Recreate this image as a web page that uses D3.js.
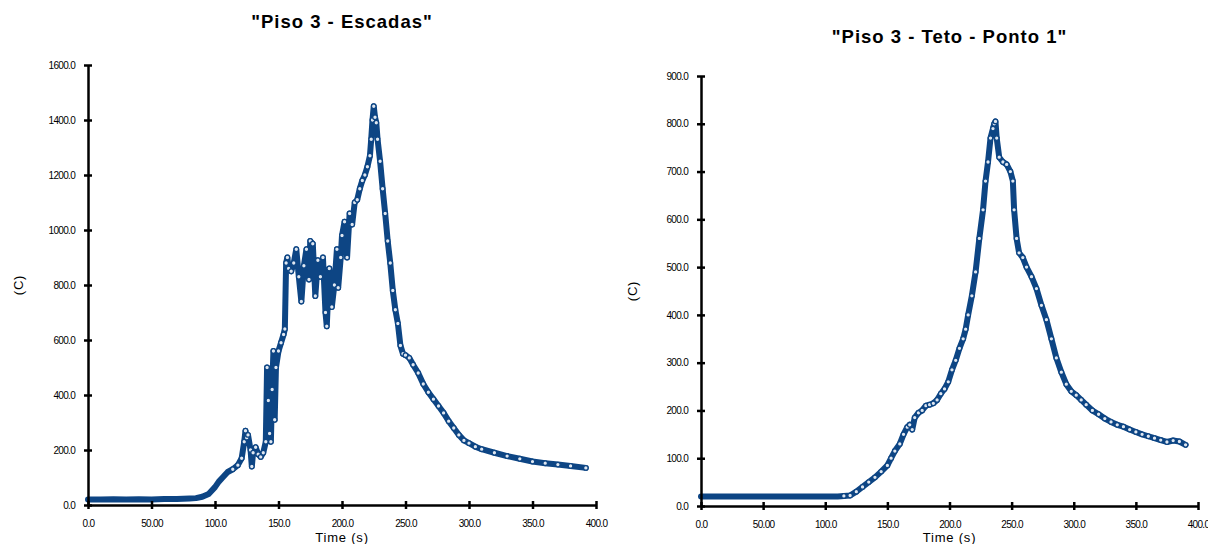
<!DOCTYPE html>
<html>
<head>
<meta charset="utf-8">
<script src="https://cdn.jsdelivr.net/npm/d3@7"></script>
<style>
  html, body { margin: 0; padding: 0; background: #fff; }
  svg { display: block; }
</style>
</head>
<body>
<div id="chart"></div>
<script>
// "Piso 3 - Escadas"
const stairsTime = [0, 10, 20, 30, 40, 50, 60, 70, 80, 85, 90, 95, 100, 103, 106, 110, 114, 118, 121, 123, 124, 125, 126, 128, 129, 130, 132, 134, 136, 138, 140, 141, 142, 143, 144, 145, 146, 147, 148, 150, 152, 154, 155, 156, 157, 158, 160, 162, 164, 166, 168, 170, 172, 174, 175, 177, 179, 181, 183, 185, 187, 188, 190, 192, 194, 196, 197, 199, 200, 202, 204, 206, 208, 210, 212, 214, 216, 218, 220, 222, 223, 224, 225, 226, 227, 228, 230, 232, 234, 236, 238, 240, 242, 244, 246, 248, 250, 253, 256, 260, 264, 268, 272, 276, 280, 284, 288, 292, 296, 300, 305, 310, 320, 330, 340, 350, 360, 370, 380, 392];
const stairsTemp = [20, 20, 21, 20, 21, 20, 22, 22, 24, 25, 30, 40, 65, 85, 100, 120, 130, 145, 170, 230, 270, 245, 255, 200, 140, 190, 210, 185, 175, 190, 230, 500, 380, 260, 230, 420, 560, 310, 500, 560, 590, 620, 640, 880, 900, 860, 850, 880, 930, 830, 740, 870, 930, 820, 960, 950, 760, 890, 830, 900, 700, 650, 860, 720, 800, 930, 790, 900, 980, 1030, 900, 1060, 1020, 1100, 1110, 1150, 1180, 1200, 1230, 1270, 1330, 1400, 1450, 1410, 1390, 1330, 1250, 1150, 1060, 960, 880, 780, 710, 660, 580, 550, 545, 535, 510, 480, 440, 410, 385, 360, 335, 305, 280, 255, 235, 225, 212, 203, 190, 178, 168, 158, 152, 147, 142, 135];

// "Piso 3 - Teto - Ponto 1"
const ceilingTime = [0, 10, 20, 30, 40, 50, 60, 70, 80, 90, 100, 110, 115, 120, 125, 130, 135, 140, 145, 150, 153, 156, 160, 163, 166, 168, 170, 172, 175, 178, 181, 184, 187, 190, 193, 196, 199, 202, 205, 208, 211, 213, 215, 218, 221, 224, 227, 229, 231, 233, 235, 236, 237, 238, 240, 243, 246, 249, 251, 252, 254, 256, 259, 262, 266, 270, 274, 278, 282, 286, 290, 294, 298, 302, 306, 310, 315, 320, 325, 330, 335, 340, 345, 350, 355, 360, 365, 370, 375, 380, 385, 390];
const ceilingTemp = [20, 20, 20, 20, 20, 20, 20, 20, 20, 20, 20, 20, 21, 22, 30, 40, 50, 60, 72, 85, 100, 115, 130, 150, 165, 170, 160, 185, 195, 200, 210, 212, 215, 222, 235, 245, 260, 285, 305, 330, 350, 370, 400, 440, 490, 560, 620, 680, 720, 770, 790, 800, 805, 770, 730, 720, 715, 700, 680, 620, 560, 530, 520, 500, 480, 455, 420, 390, 350, 310, 280, 255, 240, 232, 222, 212, 200, 192, 183, 176, 170, 166, 160, 155, 150, 146, 142, 138, 134, 137, 135, 128];

const xTickValues = [0, 50, 100, 150, 200, 250, 300, 350, 400];
const xTickLabels = ['0.0', '50.00', '100.0', '150.0', '200.0', '250.0', '300.0', '350.0', '400.0'];
const stairsYTicks = [0, 200, 400, 600, 800, 1000, 1200, 1400, 1600];
const ceilingYTicks = [0, 100, 200, 300, 400, 500, 600, 700, 800, 900];

const width = 1208;
const height = 544;
const lineColor = '#0d4584';

const svg = d3.select('#chart').append('svg')
  .attr('width', width)
  .attr('height', height)
  .attr('viewBox', [0, 0, width, height])
  .attr('font-family', 'Liberation Sans, Arial, sans-serif');

const drawPanel = ({times, temps, title, titleY, xRange, yRange, yMax, yTicks, yLabelX}) => {
  const x = d3.scaleLinear([0, 400], xRange);
  const y = d3.scaleLinear([0, yMax], yRange);
  const I = d3.range(times.length);

  const xAxis = d3.axisBottom(x)
    .tickValues(xTickValues)
    .tickFormat((d, i) => xTickLabels[i])
    .tickSizeOuter(0)
    .tickPadding(9);
  const yAxis = d3.axisLeft(y)
    .tickValues(yTicks)
    .tickFormat(d3.format('.1f'))
    .tickSizeOuter(0)
    .tickPadding(7);

  // data first, axes drawn on top like the original
  const line = d3.line()
    .x(i => x(times[i]))
    .y(i => y(temps[i]));

  svg.append('path')
    .attr('fill', 'none')
    .attr('stroke', lineColor)
    .attr('stroke-width', 6)
    .attr('stroke-linejoin', 'round')
    .attr('stroke-linecap', 'round')
    .attr('d', line(I));

  svg.append('g')
    .attr('fill', '#dfe7f1')
    .attr('stroke', lineColor)
    .attr('stroke-width', 1.3)
    .selectAll('circle')
    .data(I.filter(i => times[i] > 110))
    .join('circle')
    .attr('cx', i => x(times[i]))
    .attr('cy', i => y(temps[i]))
    .attr('r', 2.3);

  svg.append('g')
    .attr('transform', `translate(0,${yRange[0]})`)
    .call(xAxis)
    .call(g => g.select('.domain').attr('stroke-width', 2.5))
    .call(g => g.selectAll('.tick line').attr('y1', -4).attr('y2', 4).attr('stroke-width', 2.5))
    .call(g => g.selectAll('.tick text')
      .attr('font-size', 10)
      .attr('letter-spacing', -0.7)
      .attr('fill', '#000'));

  svg.append('g')
    .attr('transform', `translate(${xRange[0]},0)`)
    .call(yAxis)
    .call(g => g.select('.domain').attr('stroke-width', 2.5))
    .call(g => g.selectAll('.tick line').attr('x1', -4).attr('x2', 4).attr('stroke-width', 2.5))
    .call(g => g.selectAll('.tick text')
      .attr('font-size', 10)
      .attr('letter-spacing', -0.7)
      .attr('fill', '#000'));

  const cx = (xRange[0] + xRange[1]) / 2;

  svg.append('text')
    .attr('x', cx)
    .attr('y', 542)
    .attr('text-anchor', 'middle')
    .attr('font-size', 13)
    .attr('letter-spacing', 0.8)
    .text('Time (s)');

  svg.append('text')
    .attr('transform', `translate(${yLabelX},${(yRange[0] + yRange[1]) / 2}) rotate(-90)`)
    .attr('text-anchor', 'middle')
    .attr('font-size', 13)
    .attr('letter-spacing', 0.8)
    .text('(C)');

  svg.append('text')
    .attr('x', cx)
    .attr('y', titleY)
    .attr('text-anchor', 'middle')
    .attr('font-size', 18.5)
    .attr('font-weight', 'bold')
    .attr('letter-spacing', 1)
    .text(title);
};

drawPanel({
  times: stairsTime,
  temps: stairsTemp,
  title: '"Piso 3 - Escadas"',
  titleY: 28,
  xRange: [88, 596],
  yRange: [505, 65],
  yMax: 1600,
  yTicks: stairsYTicks,
  yLabelX: 23
});

drawPanel({
  times: ceilingTime,
  temps: ceilingTemp,
  title: '"Piso 3 - Teto - Ponto 1"',
  titleY: 43,
  xRange: [701, 1198],
  yRange: [506, 76],
  yMax: 900,
  yTicks: ceilingYTicks,
  yLabelX: 637
});
</script>
</body>
</html>
